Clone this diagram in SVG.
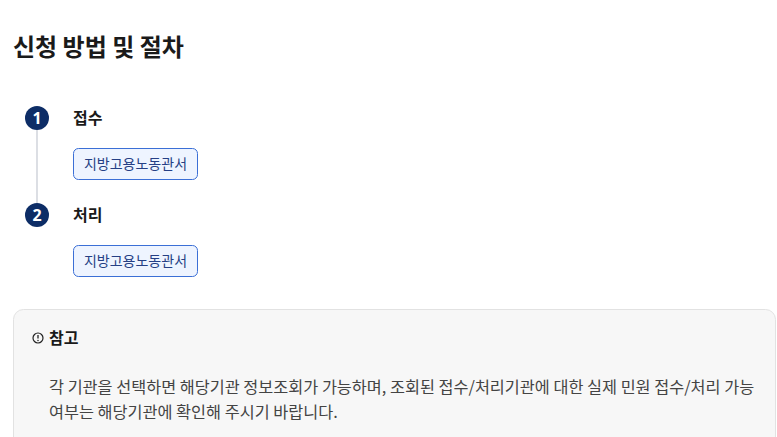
<svg xmlns="http://www.w3.org/2000/svg" width="777" height="437" viewBox="0 0 777 437">
<style>
text{font-family:"Noto Sans CJK KR","Noto Sans",sans-serif}
.title{font-size:24px;font-weight:700;fill:#1a1a1a}
.num{font-size:16px;font-weight:700;fill:#fff;font-family:"Noto Sans","Liberation Sans",sans-serif}
.step{font-size:16px;font-weight:700;fill:#1a1a1a}
.tag rect{fill:#eef4ff;stroke:#3b6fd6;stroke-width:1}
.tag text{font-size:14px;fill:#253f85}
.dot{fill:#0d2d66}
.body{font-size:16.3px;fill:#444}
</style>
<rect width="777" height="437" fill="#fff"/>
<text class="title" x="13" y="56">신청 방법 및 절차</text>
<g id="connectors">
<line x1="37" y1="130" x2="37" y2="203" stroke="#c5c9d2" stroke-width="1.2"/>
</g>
<g id="step1">
<circle class="dot" cx="37" cy="118" r="12"/>
<text class="num" x="37" y="123.5" text-anchor="middle">1</text>
<text class="step" x="73" y="124">접수</text>
</g>
<g id="tag1" class="tag">
<rect x="73.5" y="148.5" width="124" height="31" rx="5"/>
<text x="135.5" y="169" text-anchor="middle">지방고용노동관서</text>
</g>
<g id="step2">
<circle class="dot" cx="37" cy="215" r="12"/>
<text class="num" x="37" y="220.5" text-anchor="middle">2</text>
<text class="step" x="73" y="221">처리</text>
</g>
<g id="tag2" class="tag">
<rect x="73.5" y="245.5" width="124" height="31" rx="5"/>
<text x="135.5" y="266" text-anchor="middle">지방고용노동관서</text>
</g>
<g id="note">
<rect x="13.5" y="309.5" width="762" height="140" rx="10" fill="#f7f7f7" stroke="#e2e2e2"/>
<circle cx="38" cy="338" r="5" fill="none" stroke="#222" stroke-width="1.2"/>
<line x1="38" y1="335" x2="38" y2="338.6" stroke="#222" stroke-width="1.3"/>
<circle cx="38" cy="340.6" r="0.75" fill="#222"/>
<text x="49" y="344" style="font-size:16px;font-weight:700;fill:#1a1a1a">참고</text>
<text class="body" x="49" y="393">각 기관을 선택하면 해당기관 정보조회가 가능하며, 조회된 접수/처리기관에 대한 실제 민원 접수/처리 가능</text>
<text class="body" x="49" y="418">여부는 해당기관에 확인해 주시기 바랍니다.</text>
</g>
</svg>
